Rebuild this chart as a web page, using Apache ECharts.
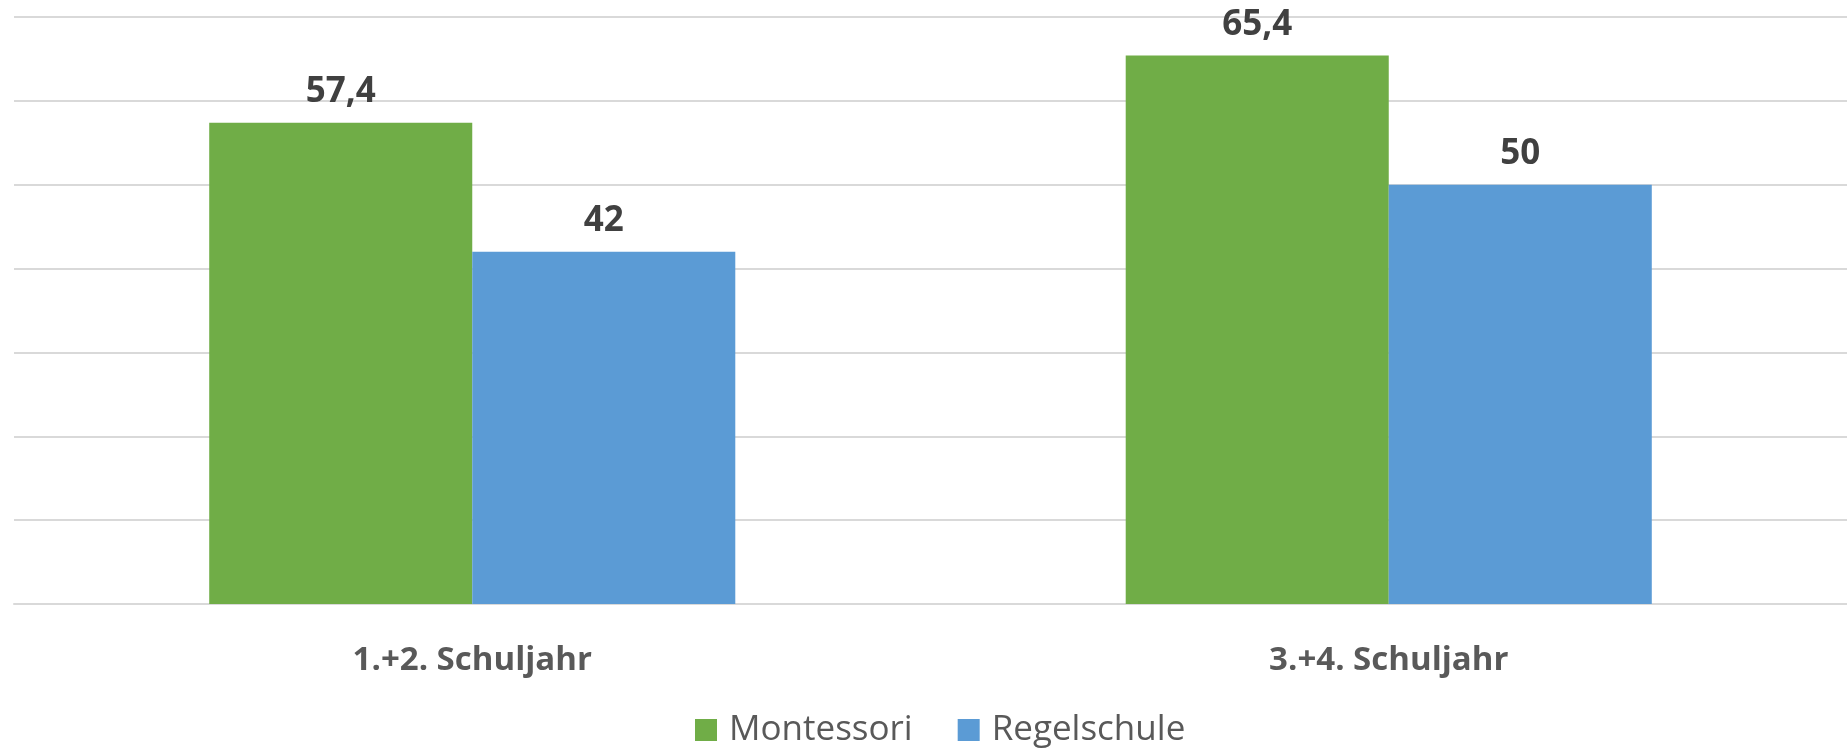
<!DOCTYPE html>
<html>
<head>
<meta charset="utf-8">
<title>Montessori vs Regelschule</title>
<script src="https://cdn.jsdelivr.net/npm/echarts@6/dist/echarts.min.js"></script>
<style>
  html, body { margin: 0; padding: 0; background: #fff; }
  #main { width: 1847px; height: 748px; }
</style>
</head>
<body>
<div id="main"></div>
<script>
// Daten
var categories = ['1.+2. Schuljahr', '3.+4. Schuljahr'];
var seriesNames = ['Montessori', 'Regelschule'];
var montessori = [57.4, 65.4];
var regelschule = [42, 50];

var fontName = '"Open Sans", "Noto Sans", sans-serif';

// Zahl mit Dezimalkomma
function fmt(v) {
    return String(v).replace('.', ',');
}

function makeSeries(name, data, color) {
    return {
        name: name,
        type: 'bar',
        data: data,
        barWidth: '28.7%',
        barGap: '0%',
        itemStyle: { color: color },
        label: {
            show: true,
            position: 'top',
            distance: 13,
            color: '#404040',
            fontFamily: fontName,
            fontWeight: 'bold',
            fontSize: 35,
            formatter: function (p) { return fmt(p.value); }
        }
    };
}

var chart = echarts.init(document.getElementById('main'));
chart.setOption({
    animation: false,
    backgroundColor: '#ffffff',
    grid: {
        left: 14,
        right: 0,
        top: 17,
        bottom: 144,
        containLabel: false
    },
    legend: {
        data: seriesNames,
        left: 690,
        top: 707,
        icon: 'rect',
        itemWidth: 22,
        itemHeight: 22,
        itemGap: 45,
        textStyle: {
            color: '#595959',
            fontFamily: fontName,
            fontSize: 35,
            lineHeight: 36,
            padding: [0, 0, 0, 7]
        }
    },
    xAxis: {
        type: 'category',
        data: categories,
        axisLine: { show: true, lineStyle: { color: '#D9D9D9', width: 2 } },
        axisTick: { show: false },
        axisLabel: {
            margin: 40,
            color: '#595959',
            fontFamily: fontName,
            fontWeight: 'bold',
            fontSize: 33,
            lineHeight: 34
        }
    },
    yAxis: {
        type: 'value',
        min: 0,
        max: 70,
        interval: 10,
        axisLine: { show: false },
        axisTick: { show: false },
        axisLabel: { show: false },
        splitLine: { lineStyle: { color: '#D9D9D9', width: 2 } }
    },
    series: [
        makeSeries(seriesNames[0], montessori, '#70AD47'),
        makeSeries(seriesNames[1], regelschule, '#5B9BD5')
    ]
});
</script>
</body>
</html>
